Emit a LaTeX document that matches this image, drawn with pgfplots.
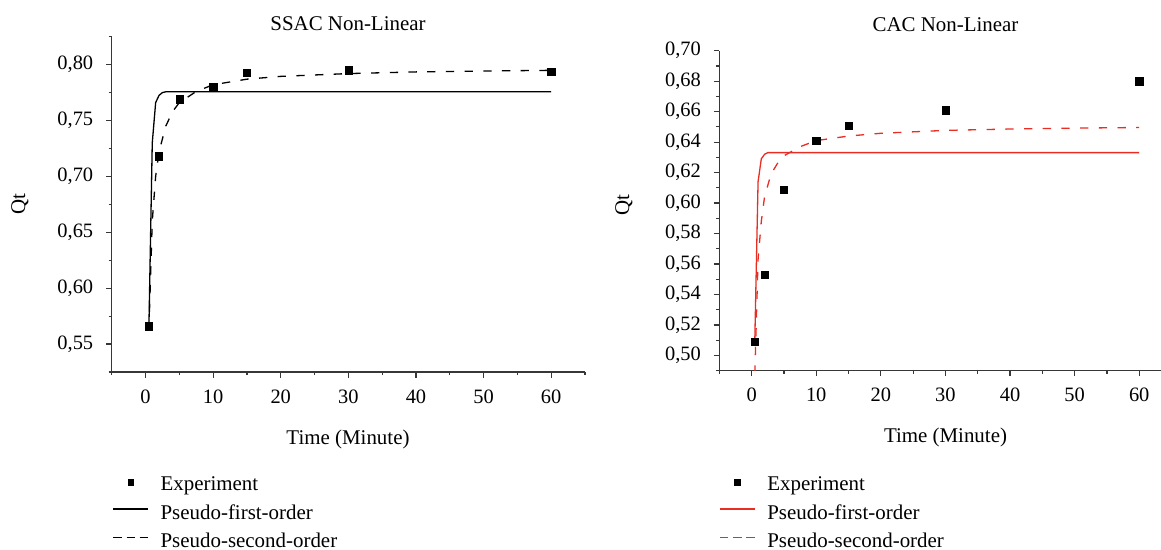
\documentclass[border=0pt]{standalone}
\usepackage{fontspec}
\setmainfont{Liberation Serif}
\usepackage{pgfplots}
\pgfplotsset{compat=1.18}
\definecolor{axgray}{RGB}{55,55,55}
\definecolor{fitred}{RGB}{232,45,35}

\pgfplotsset{
  kin/.style={
    scale only axis,
    axis x line*=bottom, axis y line*=left,
    axis line style={axgray, line width=1.3bp, -},
    every tick/.style={axgray, line width=1.2bp},
    tick align=outside,
    major tick length=5.5bp, minor tick length=3bp,
    xmin=-5,
    xtick={0,10,...,60},
    minor xtick={-5,5,...,65},
    tick label style={font=\fontsize{20.5}{24}\selectfont, black},
    /pgf/number format/assume math mode=true,
    xticklabel style={yshift=-8.5bp},
    yticklabel style={xshift=-9.5bp,
      /pgf/number format/fixed, /pgf/number format/fixed zerofill,
      /pgf/number format/precision=2, /pgf/number format/use comma,
      /pgf/number format/assume math mode=true},
    legend cell align=left,
    legend style={at={(0,0)}, anchor=north west, draw=none, fill=none,
      inner sep=0pt, outer sep=0pt, row sep=9.25bp, column sep=12bp,
      font=\fontsize{21}{25}\selectfont,
      nodes={inner sep=0pt, text height=14.5bp, text depth=4.6bp}},
  },
  expt/.style={only marks, mark=square*, mark size=3.6bp, black,
    legend image code/.code={\path[draw=none, fill=none] (0bp,0bp) -- (34.6bp,0bp);
      \fill[black] (14.4bp,0.8bp) rectangle (20.2bp,6.6bp);}},
  pfo/.style={line width=1.3bp,
    legend image code/.code={\draw[#1] (0bp,5.2bp) -- (34.6bp,5.2bp);}},
  pso/.style={line width=1.3bp, dash pattern=on 8.3bp off 10.4bp,
    legend image code/.code={\draw[#1, dash pattern=on 8.3bp off 4.85bp] (0bp,5.2bp) -- (34.6bp,5.2bp);}},
}

\begin{document}
\begin{tikzpicture}
\useasboundingbox (0,0) rectangle (1161bp,550bp);

% ---------------- Left panel ----------------
\begin{axis}[kin,
  at={(111.7bp,178bp)}, anchor=south west,
  width=473.3bp, height=335.3bp,
  xmax=65, ymin=0.525, ymax=0.825,
  ytick={0.55,0.60,...,0.80},
  minor ytick={0.525,0.575,...,0.826},
  legend style={xshift=1bp, yshift=-104.25bp},
]
\addplot[expt] coordinates {(0.5,0.566) (2,0.718) (5,0.769) (10,0.780) (15,0.793) (30,0.795) (60,0.794)};
\addlegendentry{Experiment}
\addplot[pfo, black] coordinates {(0.5,0.564) (1,0.730) (1.5,0.766) (2,0.7725) (2.5,0.7750) (3,0.7757) (60,0.7757)};
\addlegendentry{Pseudo-first-order}
\addplot[pso, black] coordinates {(0.5,0.562) (1,0.660) (1.5,0.700) (2,0.722) (3,0.745) (4,0.758) (5,0.766) (7.5,0.776) (10,0.782) (15,0.787) (20,0.7895) (30,0.792) (40,0.7935) (50,0.7943) (60,0.7949)};
\addlegendentry{Pseudo-second-order}
\end{axis}

% ---------------- Right panel ----------------
\begin{axis}[kin,
  at={(719.3bp,179.3bp)}, anchor=south west,
  width=441.7bp, height=320bp,
  xmax=63.37, ymin=0.49, ymax=0.70,
  ytick={0.50,0.52,...,0.701},
  minor ytick={0.49,0.51,...,0.70},
  legend style={xshift=0.1bp, yshift=-105.5bp},
]
\addplot[expt] coordinates {(0.5,0.509) (2,0.553) (5,0.609) (10,0.641) (15,0.651) (30,0.661) (60,0.680)};
\addlegendentry{Experiment}
\addplot[pfo, fitred] coordinates {(0.5,0.511) (1,0.614) (1.5,0.629) (2,0.6320) (2.5,0.6331) (60,0.6331)};
\addlegendentry{Pseudo-first-order}
\addplot[pso, fitred] coordinates {(0.5,0.488) (1,0.563) (1.5,0.588) (2,0.604) (3,0.619) (4,0.626) (5,0.631) (7.5,0.637) (10,0.641) (15,0.644) (20,0.6458) (30,0.6477) (40,0.6486) (50,0.6492) (60,0.6496)};
\addlegendentry{Pseudo-second-order}
\end{axis}

% ---------------- Titles and labels ----------------
\begin{scope}[every node/.style={font=\fontsize{21}{25}\selectfont, inner sep=0pt}]
\node at (348bp,526bp) {SSAC Non-Linear};
\node at (945.5bp,525.5bp) {CAC Non-Linear};
\node at (348bp,110.5bp) {Time (Minute)};
\node at (945.5bp,112.5bp) {Time (Minute)};
\node[rotate=90] at (20bp,346bp) {Qt};
\node[rotate=90] at (624bp,345bp) {Qt};
\end{scope}
\end{tikzpicture}
\end{document}
